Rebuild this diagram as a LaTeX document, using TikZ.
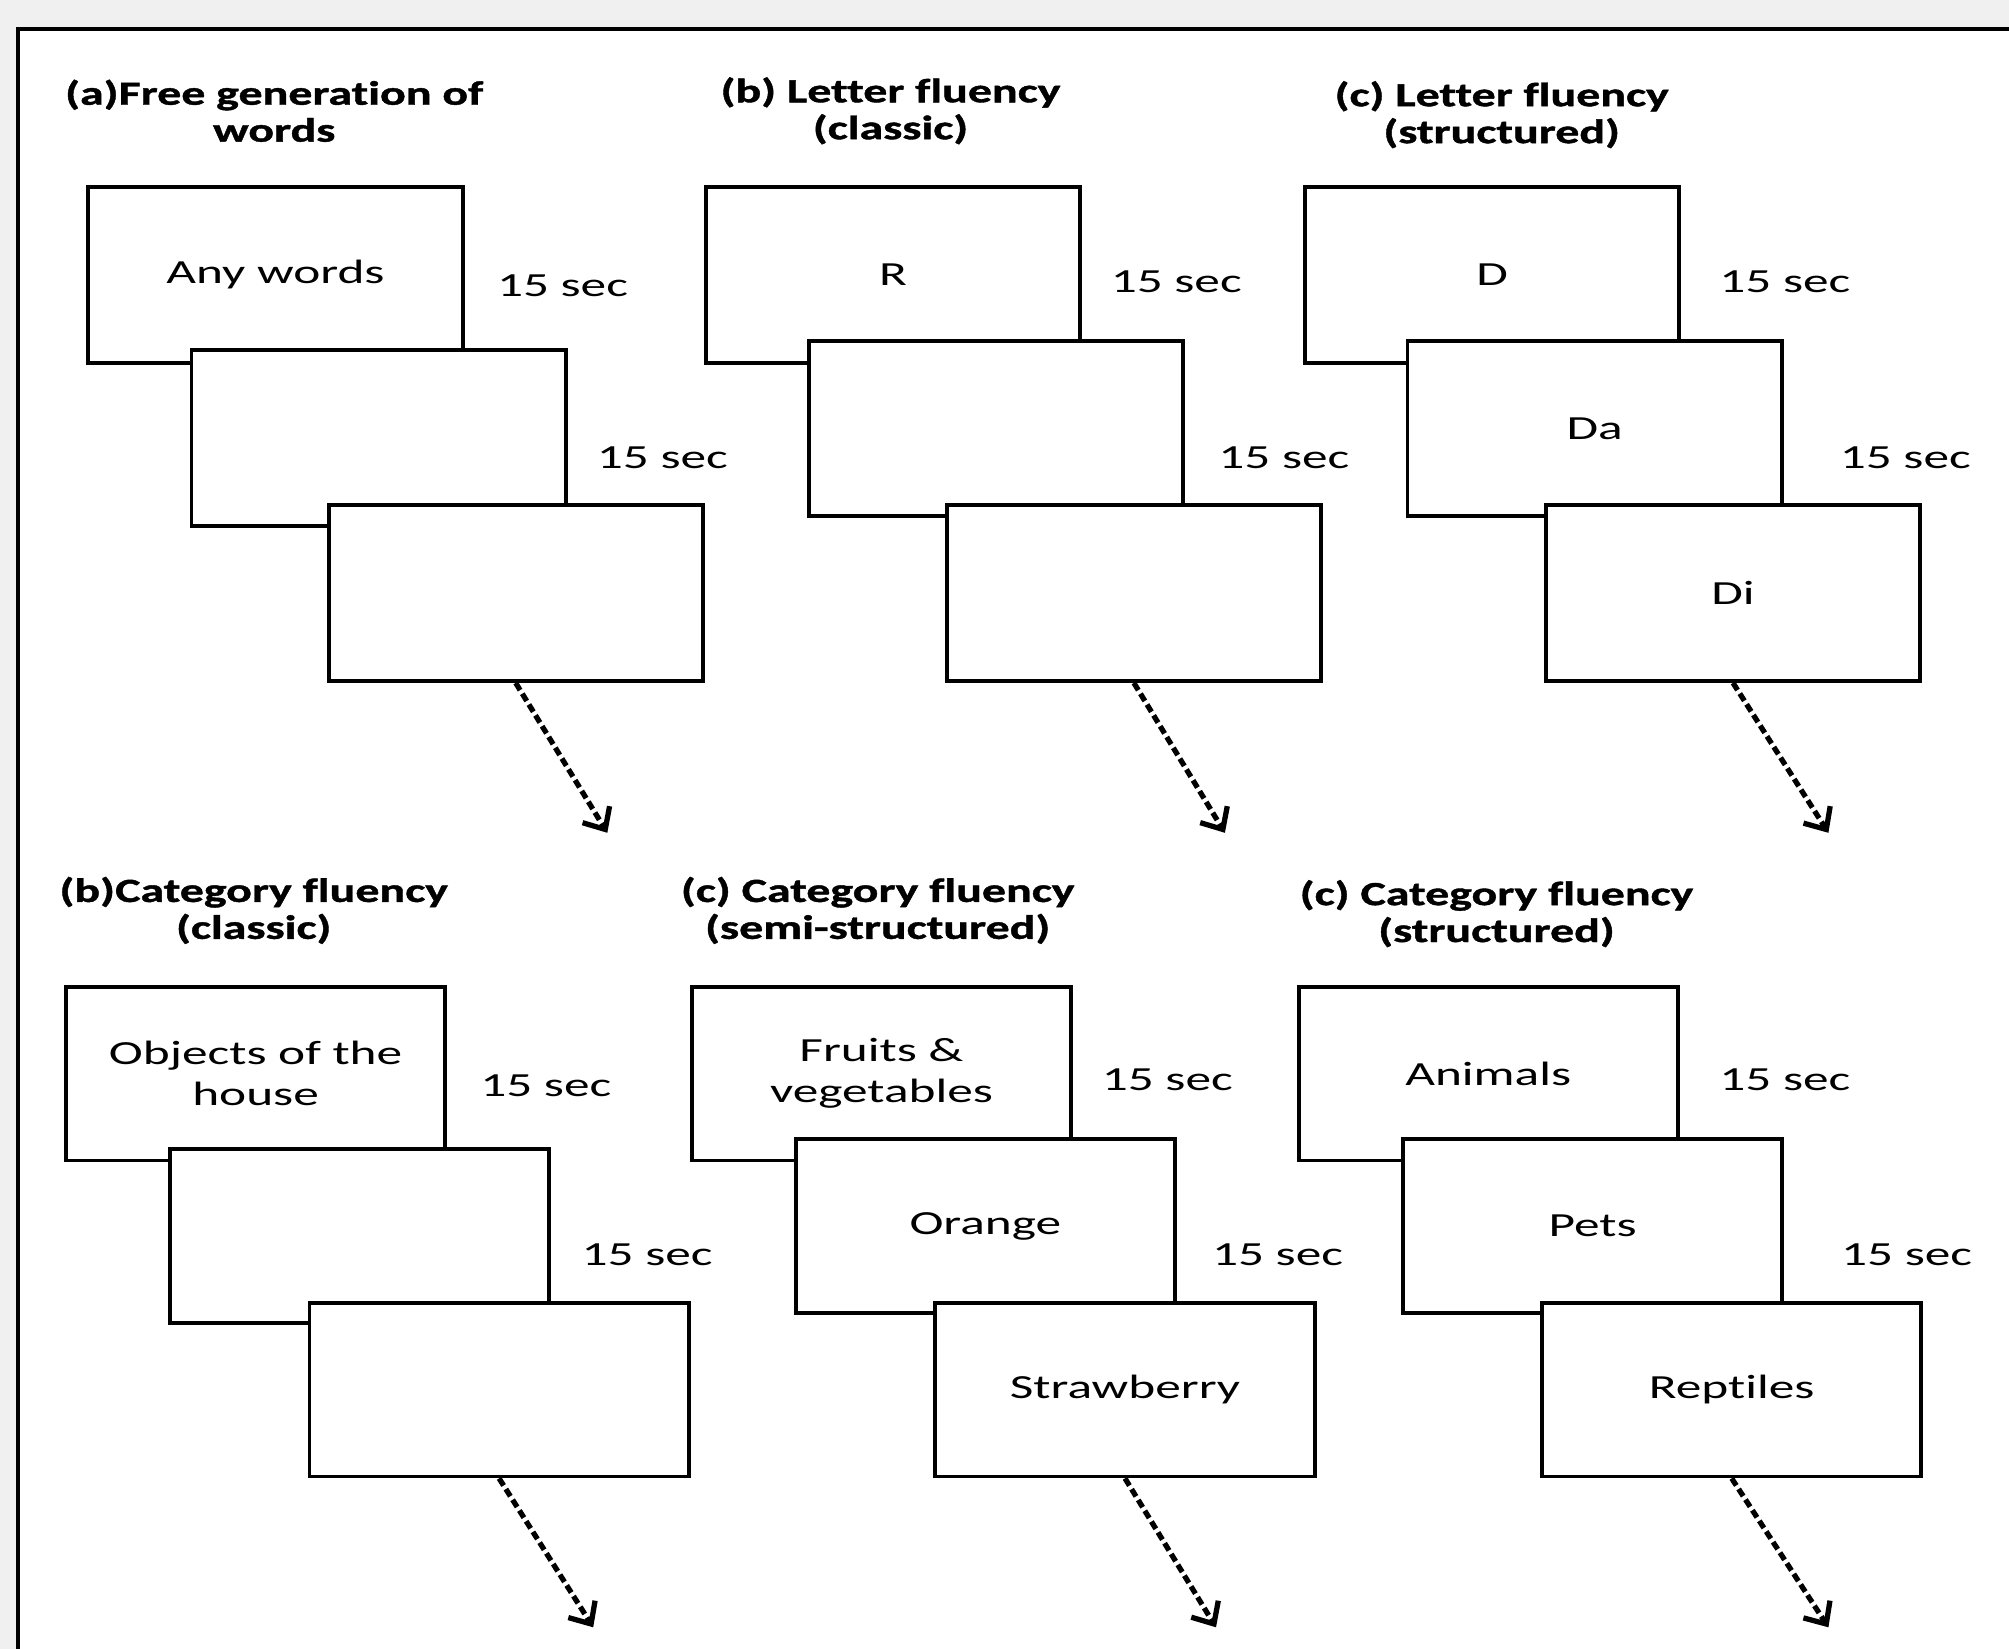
\documentclass[tikz,border=0pt]{standalone}
\usepackage{fontspec}
\setmainfont{Carlito}[FakeStretch=1.52, Ligatures=NoCommon]
\newfontfamily\headfont{Carlito}[FakeStretch=1.42, FakeBold=1.2, Ligatures=NoCommon]
\usetikzlibrary{arrows.meta}
\definecolor{pageGray}{RGB}{240, 240, 240}

\tikzset{
  card/.style={draw, line width=1.1pt, fill=white, inner sep=0pt, align=center,
    minimum width=3.74cm, minimum height=1.755cm, font=\fontsize{9.6}{11.7}\selectfont},
  cardlow/.style={card, minimum width=3.79cm, minimum height=1.736cm},
  heading/.style={align=center, font=\headfont\bfseries\fontsize{9.6}{10.5}\selectfont},
  timing/.style={font=\fontsize{9.6}{11.7}\selectfont},
  nextarrow/.style={line width=1.5pt, dash pattern=on 2.4pt off 1.2pt,
    -{Straight Barb[length=5pt, width=9pt]}}
}

\begin{document}
\begin{tikzpicture}[x=0.01cm, y=-0.01cm]
      \useasboundingbox (0,0) rectangle (2009,1649);
      \fill[pageGray] (0,0) rectangle (2009,1649);
      \fill[white] (18,29) rectangle (2009,1649);
      \draw[line width=1.4pt] (18,1649) -- (18,29) -- (2009,29);

      % (a) free generation
      \node[heading] (freeHead) at (274.2,110.8) {(a)Free generation of\\words};
      \node[card] (free1) at (275.5,274.8) {Any words};
      \node[card] (free2) at (378.6,438.2) {};
      \node[card] (free3) at (515.7,593.2) {};
      \node[timing] (freeT1) at (562.5,285.7) {15 sec};
      \node[timing] (freeT2) at (662.4,457.4) {15 sec};
      \coordinate (freeEnd) at (607.3,832.8);
      \draw[nextarrow] (free3.south) -- (freeEnd);

      % (b) letter fluency, classic
      \node[heading] (letClHead) at (890.5,110.8) {(b) Letter fluency\\(classic)};
      \node[card] (letCl1) at (893.1,274.8) {R};
      \node[card] (letCl2) at (996.2,428.6) {};
      \node[card] (letCl3) at (1133.9,593.2) {};
      \node[timing] (letClT1) at (1176.2,281.9) {15 sec};
      \node[timing] (letClT2) at (1283.9,457.4) {15 sec};
      \coordinate (letClEnd) at (1224.9,832.8);
      \draw[nextarrow] (letCl3.south) -- (letClEnd);

      % (c) letter fluency, structured
      \node[heading] (letStHead) at (1501.7,114.7) {(c) Letter fluency\\(structured)};
      \node[card] (letSt1) at (1492.1,274.8) {D};
      \node[card] (letSt2) at (1594.6,428.6) {Da};
      \node[card] (letSt3) at (1733,593.2) {Di};
      \node[timing] (letStT1) at (1784.9,281.9) {15 sec};
      \node[timing] (letStT2) at (1905.3,457.4) {15 sec};
      \coordinate (letStEnd) at (1828.4,832.8);
      \draw[nextarrow] (letSt3.south) -- (letStEnd);

      % category fluency, classic
      \node[heading] (catClHead) at (253.7,910.4) {(b)Category fluency\\(classic)};
      \node[cardlow] (catCl1) at (255.6,1073.7) {Objects of the\\house};
      \node[cardlow] (catCl2) at (359.4,1235.8) {};
      \node[cardlow] (catCl3) at (499.1,1389.6) {};
      \node[timing] (catClT1) at (545.8,1085.3) {15 sec};
      \node[timing] (catClT2) at (647.1,1254.4) {15 sec};
      \coordinate (catClEnd) at (593.2,1627.3);
      \draw[nextarrow] (catCl3.south) -- (catClEnd);

      % category fluency, semi-structured
      \node[heading] (catSeHead) at (877.7,910.4) {(c) Category fluency\\(semi-structured)};
      \node[cardlow] (catSe1) at (881.5,1073.7) {Fruits \&\\vegetables};
      \node[cardlow] (catSe2) at (985.3,1226.2) {Orange};
      \node[cardlow] (catSe3) at (1125,1389.6) {Strawberry};
      \node[timing] (catSeT1) at (1167.3,1080.1) {15 sec};
      \node[timing] (catSeT2) at (1277.5,1254.4) {15 sec};
      \coordinate (catSeEnd) at (1216,1627.3);
      \draw[nextarrow] (catSe3.south) -- (catSeEnd);

      % category fluency, structured
      \node[heading] (catStHead) at (1496.5,913.6) {(c) Category fluency\\(structured)};
      \node[cardlow] (catSt1) at (1488.2,1073.7) {Animals};
      \node[cardlow] (catSt2) at (1592.6,1226.2) {Pets};
      \node[cardlow] (catSt3) at (1731.7,1389.6) {Reptiles};
      \node[timing] (catStT1) at (1784.9,1080.1) {15 sec};
      \node[timing] (catStT2) at (1906.6,1254.4) {15 sec};
      \coordinate (catStEnd) at (1828.4,1627.3);
      \draw[nextarrow] (catSt3.south) -- (catStEnd);
    \end{tikzpicture}
\end{document}
